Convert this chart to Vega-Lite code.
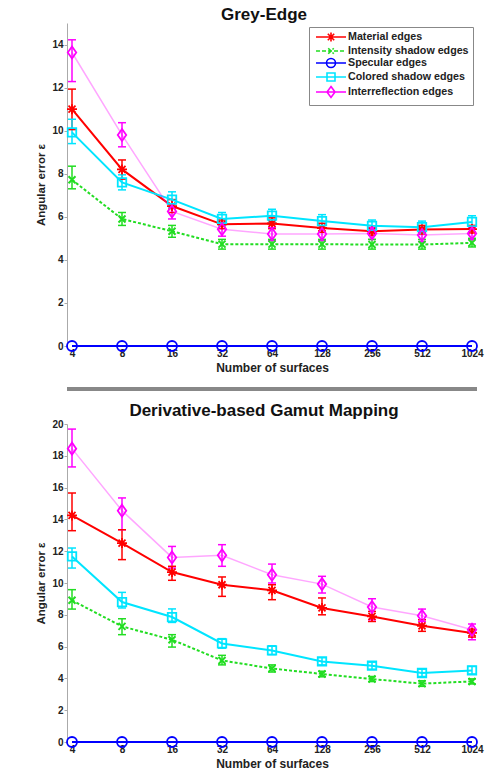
{
  "$schema": "https://vega.github.io/schema/vega-lite/v6.json",
  "background": "white",
  "padding": {"left": 35, "top": 6, "right": 5, "bottom": 0},
  "spacing": 11,
  "config": {
    "font": "Liberation Sans",
    "view": {"stroke": null},
    "axis": {"labelFont": "Liberation Sans", "labelFontWeight": "bold", "labelFontSize": 10, "labelColor": "#222", "titleFont": "Liberation Sans", "titleFontWeight": "bold", "titleFontSize": 12, "titleColor": "#222", "grid": false, "domainColor": "#aaa", "tickColor": "#aaa", "labelOverlap": false},
    "title": {"font": "Liberation Sans", "fontSize": 17, "fontWeight": "bold", "color": "#111", "offset": 2}
  },
  "datasets": {
    "ge": [
      {"n":4,"s":"Material edges","v":11.0,"lo":10.05,"hi":11.93},
      {"n":8,"s":"Material edges","v":8.2,"lo":7.75,"hi":8.64},
      {"n":16,"s":"Material edges","v":6.5,"lo":6.2,"hi":6.8},
      {"n":32,"s":"Material edges","v":5.65,"lo":5.45,"hi":5.85},
      {"n":64,"s":"Material edges","v":5.69,"lo":5.45,"hi":5.95},
      {"n":128,"s":"Material edges","v":5.48,"lo":5.28,"hi":5.7},
      {"n":256,"s":"Material edges","v":5.33,"lo":5.15,"hi":5.5},
      {"n":512,"s":"Material edges","v":5.41,"lo":5.2,"hi":5.6},
      {"n":1024,"s":"Material edges","v":5.43,"lo":5.25,"hi":5.6},
      {"n":4,"s":"Intensity shadow edges","v":7.72,"lo":7.3,"hi":8.35},
      {"n":8,"s":"Intensity shadow edges","v":5.9,"lo":5.6,"hi":6.2},
      {"n":16,"s":"Intensity shadow edges","v":5.33,"lo":5.05,"hi":5.6},
      {"n":32,"s":"Intensity shadow edges","v":4.73,"lo":4.5,"hi":4.95},
      {"n":64,"s":"Intensity shadow edges","v":4.73,"lo":4.5,"hi":4.95},
      {"n":128,"s":"Intensity shadow edges","v":4.73,"lo":4.5,"hi":4.95},
      {"n":256,"s":"Intensity shadow edges","v":4.71,"lo":4.5,"hi":4.95},
      {"n":512,"s":"Intensity shadow edges","v":4.71,"lo":4.5,"hi":4.95},
      {"n":1024,"s":"Intensity shadow edges","v":4.79,"lo":4.6,"hi":5.0},
      {"n":4,"s":"Specular edges","v":0,"lo":0,"hi":0},
      {"n":8,"s":"Specular edges","v":0,"lo":0,"hi":0},
      {"n":16,"s":"Specular edges","v":0,"lo":0,"hi":0},
      {"n":32,"s":"Specular edges","v":0,"lo":0,"hi":0},
      {"n":64,"s":"Specular edges","v":0,"lo":0,"hi":0},
      {"n":128,"s":"Specular edges","v":0,"lo":0,"hi":0},
      {"n":256,"s":"Specular edges","v":0,"lo":0,"hi":0},
      {"n":512,"s":"Specular edges","v":0,"lo":0,"hi":0},
      {"n":1024,"s":"Specular edges","v":0,"lo":0,"hi":0},
      {"n":4,"s":"Colored shadow edges","v":9.92,"lo":9.4,"hi":10.53},
      {"n":8,"s":"Colored shadow edges","v":7.6,"lo":7.25,"hi":7.95},
      {"n":16,"s":"Colored shadow edges","v":6.8,"lo":6.45,"hi":7.16},
      {"n":32,"s":"Colored shadow edges","v":5.9,"lo":5.6,"hi":6.2},
      {"n":64,"s":"Colored shadow edges","v":6.05,"lo":5.75,"hi":6.35},
      {"n":128,"s":"Colored shadow edges","v":5.8,"lo":5.5,"hi":6.1},
      {"n":256,"s":"Colored shadow edges","v":5.58,"lo":5.3,"hi":5.85},
      {"n":512,"s":"Colored shadow edges","v":5.52,"lo":5.25,"hi":5.8},
      {"n":1024,"s":"Colored shadow edges","v":5.76,"lo":5.5,"hi":6.05},
      {"n":4,"s":"Interreflection edges","v":13.63,"lo":12.28,"hi":14.22},
      {"n":8,"s":"Interreflection edges","v":9.8,"lo":9.25,"hi":10.37},
      {"n":16,"s":"Interreflection edges","v":6.25,"lo":5.9,"hi":6.6},
      {"n":32,"s":"Interreflection edges","v":5.42,"lo":5.1,"hi":5.75},
      {"n":64,"s":"Interreflection edges","v":5.2,"lo":4.9,"hi":5.5},
      {"n":128,"s":"Interreflection edges","v":5.2,"lo":4.9,"hi":5.5},
      {"n":256,"s":"Interreflection edges","v":5.23,"lo":4.95,"hi":5.5},
      {"n":512,"s":"Interreflection edges","v":5.15,"lo":4.85,"hi":5.45},
      {"n":1024,"s":"Interreflection edges","v":5.23,"lo":4.95,"hi":5.5}
    ],
    "dg": [
      {"n":4,"s":"Material edges","v":14.25,"lo":13.29,"hi":15.66},
      {"n":8,"s":"Material edges","v":12.51,"lo":11.47,"hi":13.35},
      {"n":16,"s":"Material edges","v":10.69,"lo":10.17,"hi":11.05},
      {"n":32,"s":"Material edges","v":9.89,"lo":9.16,"hi":10.38},
      {"n":64,"s":"Material edges","v":9.54,"lo":8.95,"hi":9.89},
      {"n":128,"s":"Material edges","v":8.43,"lo":8.0,"hi":9.06},
      {"n":256,"s":"Material edges","v":7.9,"lo":7.58,"hi":8.21},
      {"n":512,"s":"Material edges","v":7.31,"lo":6.96,"hi":7.69},
      {"n":1024,"s":"Material edges","v":6.86,"lo":6.6,"hi":7.1},
      {"n":4,"s":"Intensity shadow edges","v":8.91,"lo":8.36,"hi":9.58},
      {"n":8,"s":"Intensity shadow edges","v":7.27,"lo":6.75,"hi":7.75},
      {"n":16,"s":"Intensity shadow edges","v":6.43,"lo":5.97,"hi":6.75},
      {"n":32,"s":"Intensity shadow edges","v":5.13,"lo":4.85,"hi":5.45},
      {"n":64,"s":"Intensity shadow edges","v":4.62,"lo":4.4,"hi":4.85},
      {"n":128,"s":"Intensity shadow edges","v":4.28,"lo":4.1,"hi":4.45},
      {"n":256,"s":"Intensity shadow edges","v":3.96,"lo":3.8,"hi":4.12},
      {"n":512,"s":"Intensity shadow edges","v":3.67,"lo":3.5,"hi":3.85},
      {"n":1024,"s":"Intensity shadow edges","v":3.81,"lo":3.65,"hi":3.97},
      {"n":4,"s":"Specular edges","v":0,"lo":0,"hi":0},
      {"n":8,"s":"Specular edges","v":0,"lo":0,"hi":0},
      {"n":16,"s":"Specular edges","v":0,"lo":0,"hi":0},
      {"n":32,"s":"Specular edges","v":0,"lo":0,"hi":0},
      {"n":64,"s":"Specular edges","v":0,"lo":0,"hi":0},
      {"n":128,"s":"Specular edges","v":0,"lo":0,"hi":0},
      {"n":256,"s":"Specular edges","v":0,"lo":0,"hi":0},
      {"n":512,"s":"Specular edges","v":0,"lo":0,"hi":0},
      {"n":1024,"s":"Specular edges","v":0,"lo":0,"hi":0},
      {"n":4,"s":"Colored shadow edges","v":11.67,"lo":10.94,"hi":12.2},
      {"n":8,"s":"Colored shadow edges","v":8.8,"lo":8.43,"hi":9.41},
      {"n":16,"s":"Colored shadow edges","v":7.86,"lo":7.52,"hi":8.37},
      {"n":32,"s":"Colored shadow edges","v":6.2,"lo":5.9,"hi":6.5},
      {"n":64,"s":"Colored shadow edges","v":5.76,"lo":5.5,"hi":6.05},
      {"n":128,"s":"Colored shadow edges","v":5.07,"lo":4.85,"hi":5.3},
      {"n":256,"s":"Colored shadow edges","v":4.8,"lo":4.58,"hi":5.02},
      {"n":512,"s":"Colored shadow edges","v":4.34,"lo":4.12,"hi":4.58},
      {"n":1024,"s":"Colored shadow edges","v":4.5,"lo":4.28,"hi":4.75},
      {"n":4,"s":"Interreflection edges","v":18.45,"lo":17.3,"hi":19.68},
      {"n":8,"s":"Interreflection edges","v":14.55,"lo":13.35,"hi":15.35},
      {"n":16,"s":"Interreflection edges","v":11.61,"lo":10.94,"hi":12.3},
      {"n":32,"s":"Interreflection edges","v":11.74,"lo":11.05,"hi":12.41},
      {"n":64,"s":"Interreflection edges","v":10.52,"lo":10.0,"hi":11.19},
      {"n":128,"s":"Interreflection edges","v":9.93,"lo":9.37,"hi":10.42},
      {"n":256,"s":"Interreflection edges","v":8.49,"lo":7.69,"hi":9.01},
      {"n":512,"s":"Interreflection edges","v":7.94,"lo":7.58,"hi":8.36},
      {"n":1024,"s":"Interreflection edges","v":7.06,"lo":6.43,"hi":7.42}
    ]
  },
  "vconcat": [
    {
      "title": {"text": "Grey-Edge", "dx": -8, "dy": 3},
      "width": 410,
      "height": 323,
      "data": {"name": "ge"},
      "layer": [
        {
          "mark": {"type": "rule", "strokeWidth": 1.5},
          "transform": [{"filter": "datum.hi > datum.lo"}],
          "encoding": {
            "x": {"field": "n", "type": "ordinal", "scale": {"type": "point", "padding": 0.1}, "title": "Number of surfaces", "axis": {"labelAngle": 0, "ticks": false, "domain": false, "labelPadding": 2, "titlePadding": 4}},
            "y": {"field": "lo", "type": "quantitative", "scale": {"domain": [0, 15], "nice": false}, "title": "Angular error ε", "axis": {"values": [0, 2, 4, 6, 8, 10, 12, 14], "labelOverlap": false, "tickSize": 3, "labelPadding": 1, "titlePadding": 5, "titleFontSize": 11.5}},
            "y2": {"field": "hi"},
            "color": {
              "field": "s", "type": "nominal",
              "scale": {"domain": ["Material edges", "Intensity shadow edges", "Specular edges", "Colored shadow edges", "Interreflection edges"], "range": ["#ff0000", "#22dd22", "#0000ff", "#00e5ff", "#ff00ff"]},
              "legend": {
                "title": null, "orient": "top-right", "offset": 4, "padding": 4,
                "strokeColor": "#888", "fillColor": "#ffffff",
                "labelFont": "Liberation Sans", "labelFontWeight": "bold", "labelFontSize": 10.7, "labelColor": "#222",
                "symbolSize": 100, "labelOffset": 23, "rowPadding": -2, "symbolStrokeWidth": 1.6, "symbolOpacity": 1,
                "encode": {"symbols": {"update": {
                  "shape": {"signal": "datum.value==='Material edges'?'M-0.6,0L5.4,0M2.4,-0.9L2.4,0.9M1.76,-0.64L3.04,0.64M1.76,0.64L3.04,-0.64':datum.value==='Intensity shadow edges'?'M-0.6,0L5.4,0M1.85,-0.55L2.95,0.55M1.85,0.55L2.95,-0.55':datum.value==='Specular edges'?'M-0.6,0L5.4,0M3.3,0A0.9,0.9 0 1,1 1.5,0A0.9,0.9 0 1,1 3.3,0':datum.value==='Colored shadow edges'?'M-0.6,0L5.4,0M1.6,-0.8L3.2,-0.8L3.2,0.8L1.6,0.8Z':'M-0.6,0L5.4,0M2.4,-1.1L3.2,0L2.4,1.1L1.6,0Z'"},
                  "stroke": {"signal": "datum.value==='Material edges'?'#ff0000':datum.value==='Intensity shadow edges'?'#22dd22':datum.value==='Specular edges'?'#0000ff':datum.value==='Colored shadow edges'?'#00e5ff':'#ff00ff'"},
                  "fill": {"value": "transparent"},
                  "strokeDash": {"signal": "datum.value==='Intensity shadow edges'?[4,2]:[]"},
                  "strokeWidth": {"value": 1.6},
                  "opacity": {"value": 1},
                  "size": {"value": 100}
                }}}
              }
            }
          }
        },
        {
          "mark": {"type": "rule", "strokeWidth": 1.5, "xOffset": -4, "x2Offset": 4},
          "transform": [{"filter": "datum.hi > datum.lo"}],
          "encoding": {
            "x": {"field": "n", "type": "ordinal", "title": "Number of surfaces"},
            "x2": {"field": "n"},
            "y": {"field": "lo", "type": "quantitative", "title": "Angular error ε"},
            "color": {"field": "s", "type": "nominal"}
          }
        },
        {
          "mark": {"type": "rule", "strokeWidth": 1.5, "xOffset": -4, "x2Offset": 4},
          "transform": [{"filter": "datum.hi > datum.lo"}],
          "encoding": {
            "x": {"field": "n", "type": "ordinal", "title": "Number of surfaces"},
            "x2": {"field": "n"},
            "y": {"field": "hi", "type": "quantitative", "title": "Angular error ε"},
            "color": {"field": "s", "type": "nominal"}
          }
        },
        {
          "mark": {"type": "line", "strokeWidth": 2},
          "transform": [{"filter": "datum.s === 'Material edges' || datum.s === 'Specular edges' || datum.s === 'Colored shadow edges'"}],
          "encoding": {
            "x": {"field": "n", "type": "ordinal", "title": "Number of surfaces"},
            "y": {"field": "v", "type": "quantitative", "title": "Angular error ε"},
            "color": {"field": "s", "type": "nominal"}
          }
        },
        {
          "mark": {"type": "line", "strokeWidth": 2, "strokeDash": [3, 2]},
          "transform": [{"filter": "datum.s === 'Intensity shadow edges'"}],
          "encoding": {
            "x": {"field": "n", "type": "ordinal", "title": "Number of surfaces"},
            "y": {"field": "v", "type": "quantitative", "title": "Angular error ε"},
            "color": {"field": "s", "type": "nominal"}
          }
        },
        {
          "mark": {"type": "line", "strokeWidth": 1.5, "opacity": 0.35},
          "transform": [{"filter": "datum.s === 'Interreflection edges'"}],
          "encoding": {
            "x": {"field": "n", "type": "ordinal", "title": "Number of surfaces"},
            "y": {"field": "v", "type": "quantitative", "title": "Angular error ε"},
            "color": {"field": "s", "type": "nominal"}
          }
        },
        {
          "mark": {"type": "point", "filled": false, "size": 100, "strokeWidth": 1.8, "opacity": 1, "shape": "M-1,0L1,0M0,-1L0,1M-0.7,-0.7L0.7,0.7M-0.7,0.7L0.7,-0.7"},
          "transform": [{"filter": "datum.s === 'Material edges'"}],
          "encoding": {
            "x": {"field": "n", "type": "ordinal", "title": "Number of surfaces"},
            "y": {"field": "v", "type": "quantitative", "title": "Angular error ε"},
            "color": {"field": "s", "type": "nominal"}
          }
        },
        {
          "mark": {"type": "point", "filled": false, "size": 100, "strokeWidth": 2, "opacity": 1, "shape": "M-0.7,-0.7L0.7,0.7M-0.7,0.7L0.7,-0.7"},
          "transform": [{"filter": "datum.s === 'Intensity shadow edges'"}],
          "encoding": {
            "x": {"field": "n", "type": "ordinal", "title": "Number of surfaces"},
            "y": {"field": "v", "type": "quantitative", "title": "Angular error ε"},
            "color": {"field": "s", "type": "nominal"}
          }
        },
        {
          "mark": {"type": "point", "filled": false, "size": 100, "strokeWidth": 1.8, "opacity": 1, "shape": "circle"},
          "transform": [{"filter": "datum.s === 'Specular edges'"}],
          "encoding": {
            "x": {"field": "n", "type": "ordinal", "title": "Number of surfaces"},
            "y": {"field": "v", "type": "quantitative", "title": "Angular error ε"},
            "color": {"field": "s", "type": "nominal"}
          }
        },
        {
          "mark": {"type": "point", "filled": false, "size": 100, "strokeWidth": 1.8, "opacity": 1, "shape": "M-0.85,-0.85L0.85,-0.85L0.85,0.85L-0.85,0.85Z"},
          "transform": [{"filter": "datum.s === 'Colored shadow edges'"}],
          "encoding": {
            "x": {"field": "n", "type": "ordinal", "title": "Number of surfaces"},
            "y": {"field": "v", "type": "quantitative", "title": "Angular error ε"},
            "color": {"field": "s", "type": "nominal"}
          }
        },
        {
          "mark": {"type": "point", "filled": false, "size": 100, "strokeWidth": 1.8, "opacity": 1, "shape": "M0,-1.2L0.85,0L0,1.2L-0.85,0Z"},
          "transform": [{"filter": "datum.s === 'Interreflection edges'"}],
          "encoding": {
            "x": {"field": "n", "type": "ordinal", "title": "Number of surfaces"},
            "y": {"field": "v", "type": "quantitative", "title": "Angular error ε"},
            "color": {"field": "s", "type": "nominal"}
          }
        },
        {
          "mark": {"type": "rule", "color": "#888", "strokeWidth": 2.5},
          "encoding": {"y": {"datum": -2.0, "type": "quantitative", "title": "Angular error ε", "axis": {"values": [0, 2, 4, 6, 8, 10, 12, 14], "labelOverlap": false, "tickSize": 3, "labelPadding": 1, "titlePadding": 5, "titleFontSize": 11.5}}}
        }
      ]
    },
    {
      "title": {"text": "Derivative-based Gamut Mapping", "dx": -8, "dy": 3},
      "width": 410,
      "height": 318,
      "data": {"name": "dg"},
      "layer": [
        {
          "mark": {"type": "rule", "strokeWidth": 1.5},
          "transform": [{"filter": "datum.hi > datum.lo"}],
          "encoding": {
            "x": {"field": "n", "type": "ordinal", "scale": {"type": "point", "padding": 0.1}, "title": "Number of surfaces", "axis": {"labelAngle": 0, "ticks": false, "domain": false, "labelPadding": 2, "titlePadding": 4}},
            "y": {"field": "lo", "type": "quantitative", "scale": {"domain": [0, 20], "nice": false}, "title": "Angular error ε", "axis": {"values": [0, 2, 4, 6, 8, 10, 12, 14, 16, 18, 20], "labelOverlap": false, "tickSize": 3, "labelPadding": 1, "titlePadding": 5, "titleFontSize": 11.5}},
            "y2": {"field": "hi"},
            "color": {
              "field": "s", "type": "nominal",
              "scale": {"domain": ["Material edges", "Intensity shadow edges", "Specular edges", "Colored shadow edges", "Interreflection edges"], "range": ["#ff0000", "#22dd22", "#0000ff", "#00e5ff", "#ff00ff"]},
              "legend": {
                "title": null, "orient": "top-right", "offset": 4, "padding": 4,
                "strokeColor": "#888", "fillColor": "#ffffff",
                "labelFont": "Liberation Sans", "labelFontWeight": "bold", "labelFontSize": 10.7, "labelColor": "#222",
                "symbolSize": 100, "labelOffset": 23, "rowPadding": -2, "symbolStrokeWidth": 1.6, "symbolOpacity": 1,
                "encode": {"symbols": {"update": {
                  "shape": {"signal": "datum.value==='Material edges'?'M-0.6,0L5.4,0M2.4,-0.9L2.4,0.9M1.76,-0.64L3.04,0.64M1.76,0.64L3.04,-0.64':datum.value==='Intensity shadow edges'?'M-0.6,0L5.4,0M1.85,-0.55L2.95,0.55M1.85,0.55L2.95,-0.55':datum.value==='Specular edges'?'M-0.6,0L5.4,0M3.3,0A0.9,0.9 0 1,1 1.5,0A0.9,0.9 0 1,1 3.3,0':datum.value==='Colored shadow edges'?'M-0.6,0L5.4,0M1.6,-0.8L3.2,-0.8L3.2,0.8L1.6,0.8Z':'M-0.6,0L5.4,0M2.4,-1.1L3.2,0L2.4,1.1L1.6,0Z'"},
                  "stroke": {"signal": "datum.value==='Material edges'?'#ff0000':datum.value==='Intensity shadow edges'?'#22dd22':datum.value==='Specular edges'?'#0000ff':datum.value==='Colored shadow edges'?'#00e5ff':'#ff00ff'"},
                  "fill": {"value": "transparent"},
                  "strokeDash": {"signal": "datum.value==='Intensity shadow edges'?[4,2]:[]"},
                  "strokeWidth": {"value": 1.6},
                  "opacity": {"value": 1},
                  "size": {"value": 100}
                }}}
              }
            }
          }
        },
        {
          "mark": {"type": "rule", "strokeWidth": 1.5, "xOffset": -4, "x2Offset": 4},
          "transform": [{"filter": "datum.hi > datum.lo"}],
          "encoding": {
            "x": {"field": "n", "type": "ordinal", "title": "Number of surfaces"},
            "x2": {"field": "n"},
            "y": {"field": "lo", "type": "quantitative", "title": "Angular error ε", "axis": {"values": [0, 2, 4, 6, 8, 10, 12, 14, 16, 18, 20], "labelOverlap": false, "tickSize": 3, "labelPadding": 1, "titlePadding": 5, "titleFontSize": 11.5}},
            "color": {"field": "s", "type": "nominal"}
          }
        },
        {
          "mark": {"type": "rule", "strokeWidth": 1.5, "xOffset": -4, "x2Offset": 4},
          "transform": [{"filter": "datum.hi > datum.lo"}],
          "encoding": {
            "x": {"field": "n", "type": "ordinal", "title": "Number of surfaces"},
            "x2": {"field": "n"},
            "y": {"field": "hi", "type": "quantitative", "title": "Angular error ε", "axis": {"values": [0, 2, 4, 6, 8, 10, 12, 14, 16, 18, 20], "labelOverlap": false, "tickSize": 3, "labelPadding": 1, "titlePadding": 5, "titleFontSize": 11.5}},
            "color": {"field": "s", "type": "nominal"}
          }
        },
        {
          "mark": {"type": "line", "strokeWidth": 2},
          "transform": [{"filter": "datum.s === 'Material edges' || datum.s === 'Specular edges' || datum.s === 'Colored shadow edges'"}],
          "encoding": {
            "x": {"field": "n", "type": "ordinal", "title": "Number of surfaces"},
            "y": {"field": "v", "type": "quantitative", "title": "Angular error ε", "axis": {"values": [0, 2, 4, 6, 8, 10, 12, 14, 16, 18, 20], "labelOverlap": false, "tickSize": 3, "labelPadding": 1, "titlePadding": 5, "titleFontSize": 11.5}},
            "color": {"field": "s", "type": "nominal"}
          }
        },
        {
          "mark": {"type": "line", "strokeWidth": 2, "strokeDash": [3, 2]},
          "transform": [{"filter": "datum.s === 'Intensity shadow edges'"}],
          "encoding": {
            "x": {"field": "n", "type": "ordinal", "title": "Number of surfaces"},
            "y": {"field": "v", "type": "quantitative", "title": "Angular error ε", "axis": {"values": [0, 2, 4, 6, 8, 10, 12, 14, 16, 18, 20], "labelOverlap": false, "tickSize": 3, "labelPadding": 1, "titlePadding": 5, "titleFontSize": 11.5}},
            "color": {"field": "s", "type": "nominal"}
          }
        },
        {
          "mark": {"type": "line", "strokeWidth": 1.5, "opacity": 0.35},
          "transform": [{"filter": "datum.s === 'Interreflection edges'"}],
          "encoding": {
            "x": {"field": "n", "type": "ordinal", "title": "Number of surfaces"},
            "y": {"field": "v", "type": "quantitative", "title": "Angular error ε", "axis": {"values": [0, 2, 4, 6, 8, 10, 12, 14, 16, 18, 20], "labelOverlap": false, "tickSize": 3, "labelPadding": 1, "titlePadding": 5, "titleFontSize": 11.5}},
            "color": {"field": "s", "type": "nominal"}
          }
        },
        {
          "mark": {"type": "point", "filled": false, "size": 100, "strokeWidth": 1.8, "opacity": 1, "shape": "M-1,0L1,0M0,-1L0,1M-0.7,-0.7L0.7,0.7M-0.7,0.7L0.7,-0.7"},
          "transform": [{"filter": "datum.s === 'Material edges'"}],
          "encoding": {
            "x": {"field": "n", "type": "ordinal", "title": "Number of surfaces"},
            "y": {"field": "v", "type": "quantitative", "title": "Angular error ε", "axis": {"values": [0, 2, 4, 6, 8, 10, 12, 14, 16, 18, 20], "labelOverlap": false, "tickSize": 3, "labelPadding": 1, "titlePadding": 5, "titleFontSize": 11.5}},
            "color": {"field": "s", "type": "nominal"}
          }
        },
        {
          "mark": {"type": "point", "filled": false, "size": 100, "strokeWidth": 2, "opacity": 1, "shape": "M-0.7,-0.7L0.7,0.7M-0.7,0.7L0.7,-0.7"},
          "transform": [{"filter": "datum.s === 'Intensity shadow edges'"}],
          "encoding": {
            "x": {"field": "n", "type": "ordinal", "title": "Number of surfaces"},
            "y": {"field": "v", "type": "quantitative", "title": "Angular error ε", "axis": {"values": [0, 2, 4, 6, 8, 10, 12, 14, 16, 18, 20], "labelOverlap": false, "tickSize": 3, "labelPadding": 1, "titlePadding": 5, "titleFontSize": 11.5}},
            "color": {"field": "s", "type": "nominal"}
          }
        },
        {
          "mark": {"type": "point", "filled": false, "size": 100, "strokeWidth": 1.8, "opacity": 1, "shape": "circle"},
          "transform": [{"filter": "datum.s === 'Specular edges'"}],
          "encoding": {
            "x": {"field": "n", "type": "ordinal", "title": "Number of surfaces"},
            "y": {"field": "v", "type": "quantitative", "title": "Angular error ε", "axis": {"values": [0, 2, 4, 6, 8, 10, 12, 14, 16, 18, 20], "labelOverlap": false, "tickSize": 3, "labelPadding": 1, "titlePadding": 5, "titleFontSize": 11.5}},
            "color": {"field": "s", "type": "nominal"}
          }
        },
        {
          "mark": {"type": "point", "filled": false, "size": 100, "strokeWidth": 1.8, "opacity": 1, "shape": "M-0.85,-0.85L0.85,-0.85L0.85,0.85L-0.85,0.85Z"},
          "transform": [{"filter": "datum.s === 'Colored shadow edges'"}],
          "encoding": {
            "x": {"field": "n", "type": "ordinal", "title": "Number of surfaces"},
            "y": {"field": "v", "type": "quantitative", "title": "Angular error ε", "axis": {"values": [0, 2, 4, 6, 8, 10, 12, 14, 16, 18, 20], "labelOverlap": false, "tickSize": 3, "labelPadding": 1, "titlePadding": 5, "titleFontSize": 11.5}},
            "color": {"field": "s", "type": "nominal"}
          }
        },
        {
          "mark": {"type": "point", "filled": false, "size": 100, "strokeWidth": 1.8, "opacity": 1, "shape": "M0,-1.2L0.85,0L0,1.2L-0.85,0Z"},
          "transform": [{"filter": "datum.s === 'Interreflection edges'"}],
          "encoding": {
            "x": {"field": "n", "type": "ordinal", "title": "Number of surfaces"},
            "y": {"field": "v", "type": "quantitative", "title": "Angular error ε", "axis": {"values": [0, 2, 4, 6, 8, 10, 12, 14, 16, 18, 20], "labelOverlap": false, "tickSize": 3, "labelPadding": 1, "titlePadding": 5, "titleFontSize": 11.5}},
            "color": {"field": "s", "type": "nominal"}
          }
        }
      ]
    }
  ]
}
